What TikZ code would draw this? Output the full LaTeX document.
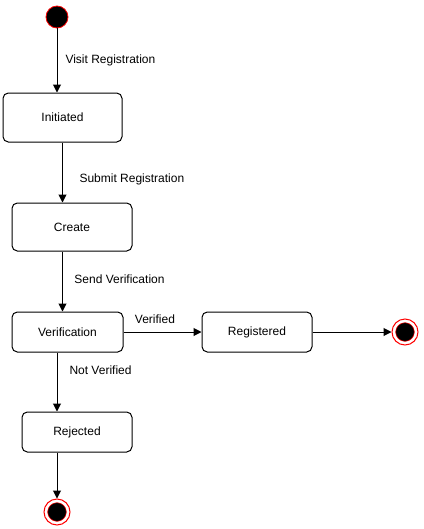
\documentclass[tikz,border=0pt]{standalone}
\usepackage{fontspec}
\setmainfont{Liberation Sans}
\usetikzlibrary{arrows.meta}

\begin{document}
\begin{tikzpicture}[x=0.75pt, y=-0.75pt, font=\fontsize{9}{11}\selectfont]
    % Define styles
    \tikzstyle{state} = [rectangle, draw, line width=0.75pt, rounded corners=4pt, text centered, minimum height=30pt]
    \tikzstyle{initial} = [circle, draw=red, fill=black, line width=0.6pt, minimum size=16.5pt, inner sep=0pt]
    \tikzstyle{final} = [circle, draw=red, fill=white, line width=0.75pt, minimum size=19.5pt, inner sep=0pt, path picture={\filldraw[draw=red, fill=black, line width=0.4pt] (path picture bounding box.center) circle (7pt);}]
    \tikzstyle{arrow} = [line width=0.75pt, -{Triangle[length=6pt, width=6pt]}]
    \tikzstyle{trigger} = [anchor=west, inner sep=0pt]

    \useasboundingbox (0,0) rectangle (424,529);

    % Nodes
    \node (start) [initial] at (57,17) {};
    \node (init) [state, minimum width=89.25pt, minimum height=36.75pt] at (62.5,117.5) {Initiated};
    \node (create) [state, minimum width=90pt, minimum height=36pt] at (72,227) {Create};
    \node (verif) [state, minimum width=83.25pt] at (67.5,332) {Verification};
    \node (regd) [state, minimum width=82.5pt] at (257,332) {Registered};
    \node (rej) [state, minimum width=82.5pt] at (77,432) {Rejected};
    \node (end1) [final] at (405,332) {};
    \node (end2) [final] at (57,512) {};

    % Arrows
    \draw [arrow] (start) -- node[trigger, xshift=6pt] {Visit Registration} (start |- init.north);
    \draw [arrow] (init.south) -- node[trigger, pos=0.62, xshift=12.4pt] {Submit Registration} (init.south |- create.north);
    \draw [arrow] (create.south -| init.south) -- node[trigger, pos=0.47, xshift=8.6pt] {Send Verification} (init.south |- verif.north);
    \draw [arrow] (verif.east) -- node[trigger, pos=0.14, yshift=9.75pt] {Verified} (regd.west);
    \draw [arrow] (regd) -- (end1);
    \draw [arrow] (verif.south -| start) -- node[trigger, pos=0.3, xshift=9pt] {Not Verified} (start |- rej.north);
    \draw [arrow] (rej.south -| end2) -- (end2);
\end{tikzpicture}
\end{document}
